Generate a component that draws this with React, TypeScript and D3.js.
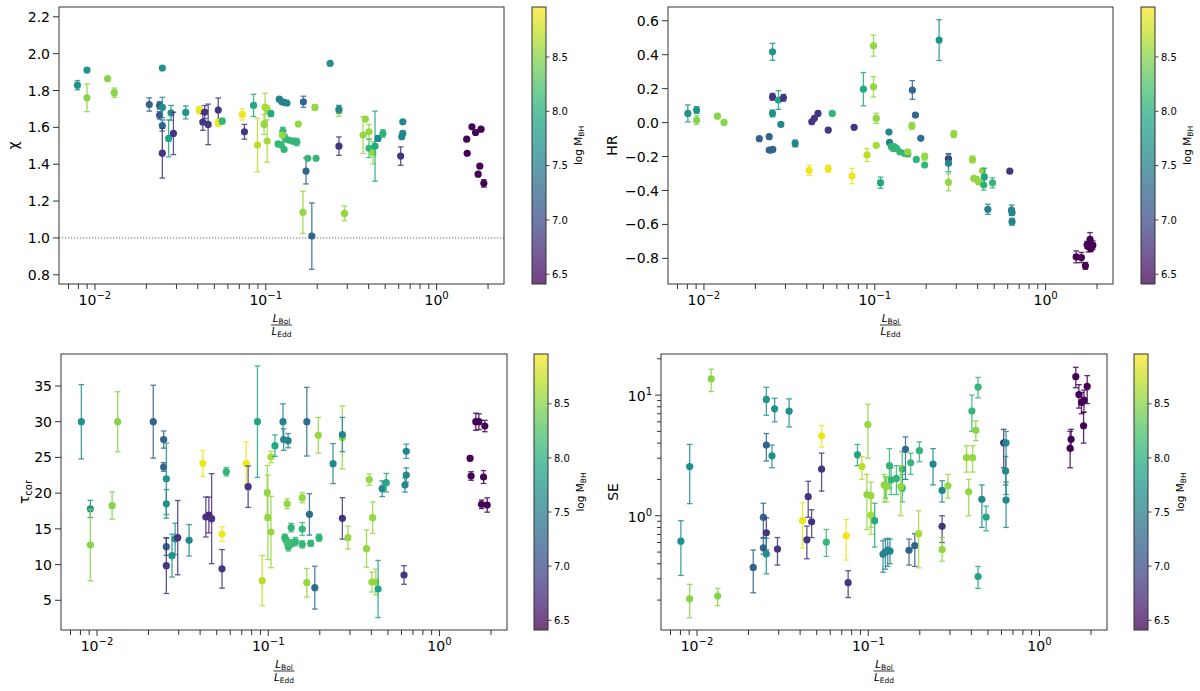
import React from 'react';
import * as d3 from 'd3';

// [L_Bol/L_Edd, chi, err, log M_BH]
const chiRows = [
  [0.0079, 1.829, 0.025, 7.7], [0.00898, 1.911, 0, 7.7], [0.00898, 1.76, 0.075, 8.5],
  [0.01186, 1.864, 0, 8.5], [0.01298, 1.788, 0.025, 8.5], [0.0208, 1.724, 0.036, 7.2],
  [0.0239, 1.719, 0.02, 7.2], [0.0239, 1.665, 0.02, 7.1], [0.0248, 1.922, 0, 7.7],
  [0.0248, 1.708, 0.055, 7.65], [0.0248, 1.61, 0.03, 7.3], [0.0248, 1.46, 0.135, 6.8],
  [0.027, 1.54, 0.1, 7.9], [0.0279, 1.679, 0.04, 7.7], [0.0288, 1.567, 0.115, 6.8],
  [0.034, 1.681, 0.035, 7.7], [0.0408, 1.694, 0.02, 8.9], [0.0439, 1.683, 0.035, 6.8],
  [0.0428, 1.629, 0.045, 6.8], [0.046, 1.616, 0.11, 6.8], [0.0527, 1.694, 0.065, 6.8],
  [0.0527, 1.625, 0.02, 8.9], [0.0556, 1.634, 0.015, 8.1], [0.0729, 1.67, 0.03, 8.9],
  [0.075, 1.576, 0.04, 6.8], [0.0848, 1.719, 0.06, 7.95], [0.0894, 1.504, 0.145, 8.7],
  [0.0977, 1.616, 0.055, 8.55], [0.099, 1.71, 0.075, 8.62], [0.1019, 1.697, 0.02, 8.62],
  [0.1019, 1.526, 0.115, 8.62], [0.107, 1.674, 0.015, 7.95],
  [0.12, 1.753, 0.01, 7.55], [0.124, 1.74, 0.01, 7.55], [0.128, 1.735, 0, 7.55], [0.133, 1.732, 0, 7.55],
  [0.118, 1.51, 0.01, 8.1], [0.123, 1.505, 0.01, 8.1], [0.128, 1.48, 0.01, 8.1],
  [0.126, 1.58, 0.02, 8.1], [0.13, 1.54, 0.02, 8.1], [0.137, 1.53, 0.01, 8.1],
  [0.145, 1.525, 0.015, 8.1], [0.152, 1.52, 0.02, 8.1], [0.125, 1.558, 0.01, 8.55],
  [0.155, 1.618, 0, 8.55], [0.166, 1.739, 0.03, 7.25], [0.172, 1.363, 0.07, 7.25],
  [0.165, 1.139, 0.115, 8.55], [0.186, 1.01, 0.18, 7.25], [0.176, 1.432, 0, 8.1],
  [0.197, 1.432, 0, 8.1], [0.194, 1.708, 0.015, 8.55], [0.238, 1.947, 0, 7.7],
  [0.268, 1.69, 0.03, 8.55], [0.268, 1.698, 0.02, 7.6], [0.268, 1.498, 0.05, 6.8],
  [0.289, 1.133, 0.04, 8.55], [0.383, 1.645, 0, 8.55], [0.371, 1.558, 0.1, 8.55],
  [0.402, 1.576, 0.04, 8.55], [0.402, 1.486, 0.05, 8.1], [0.424, 1.462, 0.06, 8.55],
  [0.436, 1.498, 0.19, 7.95], [0.454, 1.54, 0.015, 7.6], [0.485, 1.567, 0.02, 8.05],
  [0.616, 1.444, 0.05, 6.8], [0.634, 1.63, 0, 7.6], [0.634, 1.568, 0.01, 7.6], [0.625, 1.549, 0, 7.6],
  [1.5, 1.536, 0, 6.42], [1.51, 1.459, 0, 6.42], [1.61, 1.603, 0, 6.42], [1.69, 1.572, 0, 6.42],
  [1.82, 1.59, 0, 6.42], [1.75, 1.346, 0, 6.42], [1.79, 1.39, 0, 6.42], [1.89, 1.296, 0.02, 6.42],
];

// [L_Bol/L_Edd, HR, err, log M_BH]
const hrRows = [
  [0.00805, 0.054, 0.05, 7.7], [0.00906, 0.074, 0.02, 7.7], [0.00906, 0.015, 0.025, 8.5],
  [0.012, 0.038, 0, 8.5], [0.0131, 0.001, 0, 8.5], [0.0211, -0.095, 0, 7.2],
  [0.0241, -0.083, 0, 7.2], [0.0241, -0.162, 0, 7.2], [0.0248, -0.162, 0, 7.2],
  [0.0253, -0.158, 0, 7.2], [0.0252, 0.417, 0.05, 7.75], [0.0252, 0.152, 0.02, 6.8],
  [0.0252, 0.054, 0.02, 7.7], [0.0273, 0.133, 0.055, 7.9], [0.0292, 0.146, 0.02, 6.8],
  [0.0282, -0.011, 0, 7.6], [0.0342, -0.123, 0.02, 7.6], [0.0413, -0.282, 0.03, 8.9],
  [0.0428, 0.005, 0, 6.8], [0.0443, 0.025, 0, 6.8], [0.0465, 0.054, 0, 6.8],
  [0.0534, -0.044, 0.01, 6.8], [0.0534, -0.272, 0.02, 8.9], [0.0564, 0.054, 0, 8.1],
  [0.0736, -0.315, 0.045, 8.9], [0.0757, -0.028, 0, 6.8], [0.0858, 0.197, 0.098, 7.95],
  [0.0901, -0.191, 0.038, 8.7], [0.0983, 0.453, 0.062, 8.55], [0.0983, 0.211, 0.06, 8.55],
  [0.102, 0.025, 0.03, 8.55], [0.102, -0.134, 0, 8.62], [0.108, -0.354, 0.033, 7.95],
  [0.121, -0.056, 0, 7.55], [0.122, -0.117, 0, 7.55],
  [0.125, -0.142, 0, 8.1], [0.128, -0.152, 0, 8.1], [0.13, -0.142, 0, 8.1], [0.134, -0.152, 0.01, 8.1],
  [0.14, -0.172, 0, 8.1], [0.149, -0.181, 0, 8.1], [0.156, -0.185, 0, 8.1], [0.156, -0.172, 0.01, 8.55],
  [0.166, 0.192, 0.055, 7.25], [0.173, 0.044, 0.01, 7.25], [0.165, -0.02, 0.02, 8.55],
  [0.186, -0.093, 0, 7.3], [0.175, -0.217, 0, 8.1], [0.196, -0.201, 0.02, 8.55],
  [0.196, -0.25, 0, 8.1], [0.238, 0.486, 0.12, 7.7], [0.29, -0.068, 0.02, 8.55],
  [0.27, -0.213, 0.03, 6.8], [0.27, -0.24, 0.05, 7.6], [0.27, -0.352, 0.05, 8.55],
  [0.373, -0.217, 0.02, 8.55], [0.38, -0.329, 0, 8.55], [0.395, -0.335, 0, 8.55],
  [0.406, -0.35, 0, 8.55], [0.427, -0.284, 0, 8.55], [0.434, -0.368, 0.03, 8.1],
  [0.438, -0.319, 0.05, 7.9], [0.489, -0.355, 0.03, 8.1], [0.459, -0.511, 0.03, 7.55],
  [0.617, -0.286, 0, 6.8], [0.632, -0.516, 0.03, 7.55], [0.636, -0.531, 0, 7.55],
  [0.636, -0.584, 0.02, 7.55],
  [1.51, -0.791, 0.035, 6.42], [1.62, -0.795, 0.03, 6.42], [1.71, -0.844, 0.02, 6.42],
  [1.78, -0.732, 0.03, 6.42], [1.82, -0.688, 0.04, 6.42], [1.89, -0.722, 0.025, 6.42],
  [1.84, -0.74, 0.02, 6.42], [1.75, -0.72, 0.02, 6.42],
];

// [L_Bol/L_Edd, tau_cor, err, log M_BH]
const tauRows = [
  [0.0081, 30.0, 5.2, 7.7], [0.00914, 17.8, 1.2, 7.7], [0.00914, 12.74, 5.0, 8.5],
  [0.01225, 18.25, 1.9, 8.5], [0.0132, 30.0, 4.2, 8.5], [0.0213, 30.0, 5.1, 7.2],
  [0.0245, 27.5, 1.2, 7.2], [0.0245, 23.66, 0.6, 7.2], [0.0254, 22.0, 5.0, 7.75],
  [0.0254, 18.5, 2.0, 7.7], [0.0254, 12.5, 1.2, 7.2], [0.0254, 9.85, 3.9, 6.8],
  [0.0274, 11.25, 3.0, 7.75], [0.0286, 13.6, 2.2, 7.7], [0.0296, 13.77, 5.2, 6.8],
  [0.0345, 13.4, 2.2, 7.6], [0.0415, 24.17, 1.8, 8.9], [0.0432, 16.66, 2.8, 6.8],
  [0.045, 16.94, 2.5, 6.7], [0.0467, 16.43, 6.3, 6.8], [0.0537, 9.4, 2.7, 6.8],
  [0.0537, 14.28, 1.0, 8.9], [0.0569, 23.0, 0.6, 8.1], [0.0743, 24.17, 3.0, 8.9],
  [0.0763, 20.9, 2.9, 6.8], [0.0865, 30.0, 7.8, 7.9], [0.0922, 7.75, 3.5, 8.7],
  [0.0987, 20.07, 3.8, 8.55], [0.0995, 16.6, 5.9, 8.55], [0.1037, 14.56, 5.0, 8.55],
  [0.1037, 25.06, 0.8, 8.62], [0.1094, 26.65, 1.5, 7.95], [0.122, 30.0, 2.5, 7.55],
  [0.123, 27.5, 1.5, 7.55], [0.1306, 27.35, 1.0, 7.55], [0.129, 18.5, 0.7, 8.55],
  [0.158, 19.37, 0.7, 8.55], [0.136, 15.17, 0.6, 8.1], [0.158, 14.98, 0.9, 8.1],
  [0.125, 13.77, 0.5, 8.1], [0.128, 13.3, 0.5, 8.1], [0.131, 12.5, 0.6, 8.1],
  [0.136, 12.97, 0.5, 8.1], [0.144, 13.2, 0.6, 8.1], [0.158, 12.83, 0.5, 8.1],
  [0.177, 12.97, 0.4, 8.1], [0.198, 13.77, 0.5, 8.1], [0.13, 13.0, 0.4, 8.2],
  [0.174, 17.03, 2.9, 7.3], [0.168, 30.0, 4.8, 7.3], [0.168, 7.46, 2.0, 8.55],
  [0.187, 6.77, 3.0, 7.3], [0.196, 28.1, 2.5, 8.55], [0.239, 24.13, 2.8, 7.6],
  [0.271, 27.8, 4.4, 8.55], [0.271, 28.2, 2.4, 7.6], [0.271, 16.47, 2.9, 6.8],
  [0.292, 13.77, 1.6, 8.55], [0.389, 21.9, 0.8, 8.55], [0.375, 12.23, 2.6, 8.55],
  [0.407, 16.57, 2.2, 8.55], [0.403, 7.56, 1.4, 8.55], [0.425, 7.56, 1.8, 8.55],
  [0.438, 6.58, 4.0, 7.9], [0.463, 20.62, 1.1, 7.6], [0.489, 21.46, 1.3, 7.95],
  [0.621, 8.54, 1.3, 6.8], [0.629, 21.14, 1.0, 7.6], [0.64, 22.54, 1.0, 7.6],
  [0.64, 25.86, 1.0, 7.6],
  [1.51, 24.87, 0.3, 6.42], [1.53, 22.4, 0.6, 6.42], [1.63, 30.0, 1.2, 6.42],
  [1.7, 30.0, 1.1, 6.42], [1.84, 29.4, 0.8, 6.42], [1.81, 22.26, 0.9, 6.42],
  [1.76, 18.44, 0.6, 6.42], [1.9, 18.34, 1.0, 6.42],
];

// [L_Bol/L_Edd, SE, lower, upper, log M_BH]
const seRows = [
  [0.00805, 0.616, 0.32, 0.91, 7.7], [0.00906, 2.56, 1.26, 3.9, 7.7], [0.00906, 0.205, 0.143, 0.27, 8.5],
  [0.0121, 13.6, 10.7, 16.4, 8.5], [0.0132, 0.216, 0.18, 0.25, 8.5], [0.0213, 0.373, 0.23, 0.52, 7.2],
  [0.0244, 0.97, 0.65, 1.27, 7.2], [0.0244, 0.543, 0.48, 0.66, 7.2], [0.0254, 9.2, 6.8, 11.6, 7.75],
  [0.0254, 3.85, 2.84, 4.8, 7.2], [0.0254, 0.723, 0.52, 0.96, 6.8], [0.0254, 0.481, 0.33, 0.65, 7.7],
  [0.0274, 3.14, 2.5, 3.85, 7.7], [0.0284, 7.7, 6.0, 9.4, 7.7], [0.0295, 0.53, 0.39, 0.66, 6.8],
  [0.0345, 7.36, 5.45, 9.3, 7.7], [0.0413, 0.91, 0.54, 1.28, 8.9], [0.0438, 0.632, 0.44, 0.82, 6.8],
  [0.0446, 1.44, 0.97, 1.93, 6.8], [0.0467, 0.89, 0.66, 1.12, 6.8], [0.0534, 2.44, 1.6, 3.3, 6.8],
  [0.0534, 4.6, 3.7, 5.6, 8.9], [0.0569, 0.605, 0.46, 0.77, 8.1], [0.0743, 0.682, 0.43, 0.93, 8.9],
  [0.0763, 0.279, 0.21, 0.35, 6.8], [0.0865, 3.2, 2.6, 3.9, 7.9], [0.0918, 2.56, 2.0, 3.1, 8.7],
  [0.0982, 1.5, 0.77, 2.2, 8.55], [0.0995, 5.7, 3.0, 8.4, 8.55], [0.1037, 1.47, 0.8, 1.9, 8.55],
  [0.1037, 1.01, 0.7, 1.4, 8.62], [0.109, 0.91, 0.55, 1.27, 7.95], [0.122, 0.48, 0.34, 0.62, 7.55],
  [0.126, 0.5, 0.36, 0.64, 7.55], [0.13, 0.52, 0.38, 0.65, 7.55], [0.134, 0.51, 0.4, 0.64, 7.55],
  [0.126, 1.78, 1.4, 2.1, 8.1], [0.133, 2.6, 1.7, 3.6, 8.1], [0.124, 1.8, 1.3, 2.2, 8.55],
  [0.128, 1.74, 1.3, 2.1, 8.55], [0.136, 1.98, 1.5, 2.5, 8.1], [0.146, 2.04, 1.5, 2.6, 8.1],
  [0.158, 2.44, 1.6, 3.4, 8.1], [0.158, 1.71, 1.3, 2.2, 8.1], [0.155, 1.74, 1.0, 2.6, 8.55],
  [0.165, 3.55, 2.0, 4.5, 7.3], [0.177, 2.75, 2.2, 3.3, 8.1], [0.199, 3.46, 2.8, 4.1, 8.1],
  [0.173, 0.517, 0.39, 0.64, 7.2], [0.187, 0.565, 0.38, 0.71, 7.2], [0.197, 0.71, 0.37, 1.1, 8.62],
  [0.239, 2.68, 1.8, 3.6, 7.6], [0.27, 1.62, 1.3, 1.95, 7.6], [0.27, 0.817, 0.6, 1.0, 6.8],
  [0.27, 0.526, 0.42, 0.66, 8.55], [0.292, 1.77, 1.4, 2.2, 8.55], [0.375, 3.03, 2.3, 3.8, 8.55],
  [0.407, 3.03, 2.3, 3.8, 8.55], [0.386, 1.58, 1.0, 2.0, 8.55], [0.403, 7.37, 5.0, 10.0, 8.1],
  [0.425, 5.1, 4.2, 6.1, 8.5], [0.438, 11.65, 9.5, 14.0, 8.1], [0.438, 0.313, 0.25, 0.38, 7.9],
  [0.461, 1.37, 0.8, 1.8, 7.6], [0.488, 0.976, 0.75, 1.2, 7.95], [0.618, 4.02, 2.5, 5.2, 6.8],
  [0.638, 4.02, 1.5, 5.0, 7.6], [0.634, 2.35, 1.8, 3.1, 7.6], [0.638, 1.35, 0.8, 1.9, 7.6],
  [1.51, 3.62, 2.5, 5.0, 6.42], [1.53, 4.3, 3.5, 5.2, 6.42], [1.63, 14.2, 11.5, 17.0, 6.42],
  [1.7, 10.1, 7.8, 12.2, 6.42], [1.76, 8.7, 7.0, 10.5, 6.42], [1.82, 9.1, 7.2, 11.0, 6.42],
  [1.9, 11.8, 8.5, 14.5, 6.42], [1.81, 5.57, 4.0, 7.2, 6.42],
];

const chiTicks = [0.8, 1.0, 1.2, 1.4, 1.6, 1.8, 2.0, 2.2];
const hrTicks = [-0.8, -0.6, -0.4, -0.2, 0.0, 0.2, 0.4, 0.6];
const tauTicks = [5, 10, 15, 20, 25, 30, 35];
const massTicks = [6.5, 7.0, 7.5, 8.0, 8.5];
const massRange = [6.41, 8.96];
const ratioRange = [0.00616, 2.48];

const FONT = 'DejaVu Sans, sans-serif';
const color = d3.scaleSequential(d3.interpolateViridis).domain(massRange);
const fmt1 = d3.format('.1f');
const fmt0 = d3.format('d');

const sym = (rows) => rows.map(([x, y, e, m]) => ({ x, y, lo: y - e, hi: y + e, m }));
const asym = (rows) => rows.map(([x, y, lo, hi, m]) => ({ x, y, lo, hi, m }));

const isPow10 = (v) => Math.abs(Math.log10(v) - Math.round(Math.log10(v))) < 1e-6;

function Pow10({ v, x, y, size }) {
  const e = Math.round(Math.log10(v));
  return (
    <text x={x} y={y} textAnchor="middle" fontSize={size} fontFamily={FONT} fill="#000">
      10<tspan dy={-6} fontSize={size * 0.72}>{e < 0 ? '\u2212' + -e : e}</tspan>
    </text>
  );
}

function Panel(props) {
  const { id, rows, box, yDomain, yLog, yTicks, yFmt, yLabel, labelX, cbarX, refLine } = props;
  const x = d3.scaleLog().domain(ratioRange).range([box.l, box.r]);
  const y = yLog
    ? d3.scaleLog().domain(yDomain).range([box.b, box.t])
    : d3.scaleLinear().domain(yDomain).range([box.b, box.t]);
  const xTicks = x.ticks();
  const cy = (box.t + box.b) / 2;
  const cx = (box.l + box.r) / 2;
  const cbar = d3.scaleLinear().domain(massRange).range([box.b, box.t]);
  const cw = 14;
  const stops = d3.range(0, 1.0001, 0.1);
  const yTickList = yLog ? y.ticks() : yTicks;

  return (
    <g>
      <defs>
        <linearGradient id={`grad-${id}`} x1="0" y1="1" x2="0" y2="0">
          {stops.map((t) => (
            <stop key={t} offset={t} stopColor={d3.interpolateViridis(t)} />
          ))}
        </linearGradient>
      </defs>

      {refLine != null && (
        <line x1={box.l} x2={box.r} y1={y(refLine)} y2={y(refLine)} stroke="#555" strokeWidth={0.9} strokeDasharray="1.2,1.8" />
      )}

      {rows.map((d, i) => {
        const c = color(d.m);
        const px = x(d.x);
        const has = Math.abs(d.hi - d.lo) > 1e-9;
        return (
          <g key={i}>
            {has && (
              <g stroke={c} strokeWidth={1.3} opacity={0.85}>
                <line x1={px} x2={px} y1={y(d.lo)} y2={y(d.hi)} />
                <line x1={px - 2.8} x2={px + 2.8} y1={y(d.lo)} y2={y(d.lo)} />
                <line x1={px - 2.8} x2={px + 2.8} y1={y(d.hi)} y2={y(d.hi)} />
              </g>
            )}
            <circle cx={px} cy={y(d.y)} r={3.6} fill={c} />
          </g>
        );
      })}

      <rect x={box.l} y={box.t} width={box.r - box.l} height={box.b - box.t} fill="none" stroke="#333" strokeWidth={1} />

      {xTicks.map((t) => {
        const major = isPow10(t);
        return (
          <g key={t}>
            <line x1={x(t)} x2={x(t)} y1={box.b} y2={box.b + (major ? 6 : 5)} stroke="#333" strokeWidth={1} />
            {major && <Pow10 v={t} x={x(t)} y={box.b + 21} size={14} />}
          </g>
        );
      })}

      {yTickList.map((t) => {
        const major = !yLog || isPow10(t);
        return (
          <g key={t}>
            <line x1={box.l - (major ? 6 : 4)} x2={box.l} y1={y(t)} y2={y(t)} stroke="#333" strokeWidth={1} />
            {major && !yLog && (
              <text x={box.l - 9} y={y(t)} dy="0.36em" textAnchor="end" fontSize={14} fontFamily={FONT}>
                {yFmt(t)}
              </text>
            )}
            {major && yLog && (
              <text x={box.l - 9} y={y(t)} dy="0.45em" textAnchor="end" fontSize={14} fontFamily={FONT}>
                10<tspan dy={-6} fontSize={10}>{Math.round(Math.log10(t))}</tspan>
              </text>
            )}
          </g>
        );
      })}

      <text transform={`translate(${labelX},${cy}) rotate(-90)`} dy="0.35em" textAnchor="middle" fontSize={14} fontFamily={FONT}>
        {yLabel}
      </text>

      <g fontFamily={FONT} textAnchor="middle">
        <text x={cx} y={box.b + 38} fontSize={10.5}>
          <tspan fontStyle="italic">L</tspan>
          <tspan fontSize={7.5} dy={2}>Bol</tspan>
        </text>
        <line x1={cx - 10.5} x2={cx + 10.5} y1={box.b + 41} y2={box.b + 41} stroke="#000" strokeWidth={0.8} />
        <text x={cx} y={box.b + 51} fontSize={10.5}>
          <tspan fontStyle="italic">L</tspan>
          <tspan fontSize={7.5} dy={2}>Edd</tspan>
        </text>
      </g>

      <rect x={cbarX} y={box.t} width={cw} height={box.b - box.t} fill={`url(#grad-${id})`} opacity={0.75} />
      <rect x={cbarX} y={box.t} width={cw} height={box.b - box.t} fill="none" stroke="#333" strokeWidth={1} />
      {massTicks.map((t) => (
        <g key={t}>
          <line x1={cbarX + cw} x2={cbarX + cw + 3.5} y1={cbar(t)} y2={cbar(t)} stroke="#333" strokeWidth={0.9} />
          <text x={cbarX + cw + 6} y={cbar(t)} dy="0.36em" fontSize={10} fontFamily={FONT}>
            {fmt1(t)}
          </text>
        </g>
      ))}
      <text transform={`translate(${cbarX + cw + 32},${cy}) rotate(-90)`} dy="0.35em" textAnchor="middle" fontSize={10.5} fontFamily={FONT}>
        log M<tspan fontSize={7.5} dy={2}>BH</tspan>
      </text>
    </g>
  );
}

export default function App() {
  return (
    <svg width={1200} height={691} style={{ position: 'absolute', left: 0, top: 0, background: '#fff' }}>
      <Panel
        id="chi"
        rows={sym(chiRows)}
        box={{ l: 59, r: 504, t: 7, b: 284 }}
        yDomain={[0.75, 2.253]}
        yTicks={chiTicks}
        yFmt={fmt1}
        yLabel="χ"
        labelX={13}
        cbarX={532}
        refLine={1.0}
      />
      <Panel
        id="hr"
        rows={sym(hrRows)}
        box={{ l: 668, r: 1113, t: 7, b: 284 }}
        yDomain={[-0.951, 0.681]}
        yTicks={hrTicks}
        yFmt={fmt1}
        yLabel="HR"
        labelX={612}
        cbarX={1141}
      />
      <Panel
        id="tau"
        rows={sym(tauRows)}
        box={{ l: 61, r: 507, t: 354, b: 630 }}
        yDomain={[0.84, 39.48]}
        yTicks={tauTicks}
        yFmt={fmt0}
        yLabel={<>τ<tspan fontSize={10} dy={3}>cor</tspan></>}
        labelX={24}
        cbarX={534}
      />
      <Panel
        id="se"
        rows={asym(seRows)}
        box={{ l: 661, r: 1107, t: 354, b: 630 }}
        yDomain={[0.113, 21.9]}
        yLog
        yLabel="SE"
        labelX={613}
        cbarX={1134}
      />
    </svg>
  );
}
